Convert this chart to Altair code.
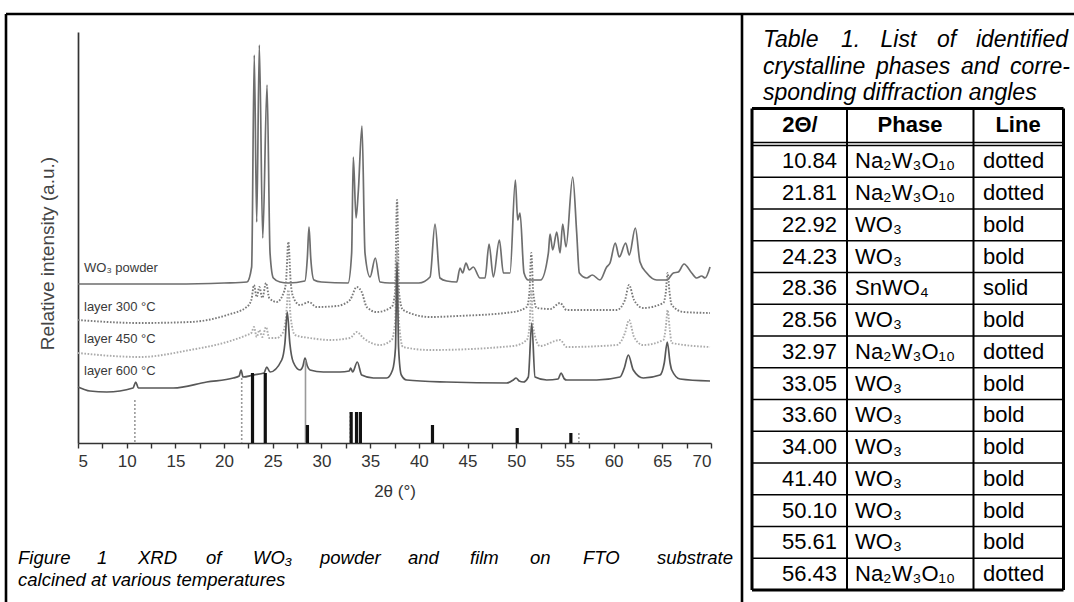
import altair as alt
import pandas as pd

FONT = "Liberation Sans"

# ---------------- XRD curves (2θ in degrees, relative intensity a.u., as stacked in the figure) ----------------
powder_theta = [5.0, 10.0, 15.0, 20.0, 22.35, 22.83, 23.1, 23.35, 23.62, 23.97, 24.41, 24.72, 25.06, 25.74,
                26.6, 28.3, 28.55, 28.72, 28.9, 29.23, 30.0, 32.73, 33.1, 33.27, 33.55, 33.78, 34.16, 34.47,
                34.99, 35.53, 36.01, 37.0, 40.0, 41.15, 41.66, 42.17, 42.86, 43.89, 44.23, 44.5, 44.84, 45.18,
                45.59, 46.28, 46.8, 47.21, 47.65, 48.27, 48.68, 49.36, 49.91, 50.15, 50.39, 50.8, 51.24, 52.5,
                53.3, 53.47, 53.75, 54.16, 54.5, 54.77, 55.11, 55.8, 56.21, 56.48, 57.24, 57.81, 58.6, 59.29,
                59.63, 60.17, 60.58, 61.24, 61.61, 62.23, 62.71, 63.4, 64.43, 65.45, 66.13, 66.64, 67.23, 68.02,
                68.53, 69.04, 69.39, 69.9]
powder_int = [159, 159, 159, 160, 161, 176, 388, 221, 398, 205, 358, 190, 165, 161,
              160, 162, 185, 216, 185, 163, 161, 160, 190, 286, 225, 251, 317, 190,
              166, 185, 161, 160, 160, 166, 219, 165, 162, 161, 175, 170, 180, 173,
              176, 165, 165, 199, 166, 203, 170, 170, 263, 223, 230, 170, 163, 163,
              190, 209, 193, 211, 190, 219, 196, 266, 210, 170, 165, 168, 163, 176,
              180, 200, 186, 200, 188, 215, 181, 170, 163, 163, 170, 171, 179, 170,
              165, 167, 165, 176]

l300_theta = [5.0, 11.37, 16.5, 20.3, 22.32, 22.8, 23.07, 23.35, 23.62, 23.93, 24.31, 24.64, 25.4, 26.02,
              26.35, 26.6, 26.85, 27.1, 27.8, 28.72, 29.51, 31.57, 32.93, 33.62, 34.13, 34.65, 35.68, 37.21,
              37.55, 37.76, 37.97, 38.37, 41.15, 44.0, 49.7, 51.08, 51.35, 51.55, 51.75, 52.1, 53.5, 54.5,
              55.18, 60.31, 61.17, 61.58, 62.1, 63.02, 65.11, 65.35, 65.55, 65.75, 65.97, 67.16, 69.9]
l300_int = [123, 120, 121, 128, 136, 143, 158, 146, 156, 145, 160, 145, 141, 148,
            160, 201, 160, 146, 138, 141, 136, 137, 143, 156, 151, 136, 131, 136,
            150, 243, 150, 133, 126, 127, 131, 136, 150, 190, 150, 135, 134, 140,
            133, 133, 143, 158, 143, 135, 140, 150, 170, 150, 138, 131, 130]

l450_theta = [5.0, 11.37, 16.5, 20.3, 22.35, 22.8, 23.07, 23.35, 23.62, 23.93, 24.31, 24.64, 25.4, 26.02,
              26.35, 26.6, 26.85, 27.28, 28.82, 30.88, 32.93, 33.62, 34.3, 36.01, 37.21, 37.55, 37.76, 37.97,
              38.37, 41.15, 49.7, 51.08, 51.35, 51.55, 51.75, 52.44, 54.5, 55.18, 60.31, 61.17, 61.58, 62.1,
              63.02, 65.11, 65.35, 65.55, 65.75, 65.97, 69.9]
l450_int = [90, 86, 93, 101, 108, 110, 116, 106, 113, 106, 116, 105, 105, 110,
            125, 153, 125, 108, 105, 103, 105, 111, 105, 98, 103, 120, 193, 120,
            96, 93, 97, 103, 115, 153, 115, 97, 103, 96, 98, 110, 123, 106,
            98, 103, 115, 133, 115, 100, 96]

l600_theta = [5.0, 6.23, 7.95, 10.65, 10.93, 11.2, 14.79, 18.22, 20.95, 21.55, 21.74, 21.95, 23.0, 24.1,
              24.38, 24.72, 25.92, 26.25, 26.49, 26.75, 27.1, 27.8, 28.1, 28.31, 28.55, 28.82, 30.19, 31.9,
              32.85, 33.0, 33.2, 33.68, 34.13, 35.33, 36.7, 37.3, 37.6, 37.76, 37.92, 38.2, 38.75, 42.86,
              49.02, 49.7, 49.98, 50.3, 50.73, 51.24, 51.59, 51.93, 53.13, 54.3, 54.6, 54.95, 55.18, 58.26,
              60.66, 61.1, 61.51, 62.02, 63.05, 64.77, 65.2, 65.51, 65.8, 65.97, 66.82, 69.9]
l600_int = [56, 52, 51, 55, 61, 55, 55, 61, 65, 67, 73, 66, 68, 70,
            76, 71, 83, 100, 131, 100, 81, 73, 77, 85, 77, 73, 71, 71,
            72, 75, 71, 81, 68, 65, 65, 73, 95, 181, 95, 68, 63, 61,
            60, 63, 65, 62, 61, 66, 120, 66, 63, 64, 70, 64, 63, 63,
            66, 75, 88, 73, 65, 68, 80, 101, 80, 73, 64, 62]

series_names = ["WO₃ powder", "layer 300 °C", "layer 450 °C", "layer 600 °C"]
series_theta = [powder_theta, l300_theta, l450_theta, l600_theta]
series_int = [powder_int, l300_int, l450_int, l600_int]
label_int = [175, 136, 104, 72]

# ---------------- Table 1 (also drives the reference sticks) ----------------
table_header = ["2Θ/", "Phase", "Line"]
table_angle = [10.84, 21.81, 22.92, 24.23, 28.36, 28.56, 32.97, 33.05, 33.60, 34.00, 41.40, 50.10, 55.61, 56.43]
table_phase = ["Na₂W₃O₁₀", "Na₂W₃O₁₀", "WO₃", "WO₃", "SnWO₄", "WO₃", "Na₂W₃O₁₀", "WO₃", "WO₃", "WO₃",
               "WO₃", "WO₃", "WO₃", "Na₂W₃O₁₀"]
table_line = ["dotted", "dotted", "bold", "bold", "solid", "bold", "dotted", "bold", "bold", "bold",
              "bold", "bold", "bold", "dotted"]
stick_height = [43, 65, 70, 70, 83, 18, 31, 31, 31, 31, 18, 15, 10, 10]

# ---------------- captions ----------------
fig_caption_1 = ["Figure", "1", "XRD", "of", "WO₃", "powder", "and", "film", "on", "FTO", "substrate"]
fig_caption_2 = "calcined at various temperatures"
tab_caption_1 = ["Table", "1.", "List", "of", "identified"]
tab_caption_2 = ["crystalline", "phases", "and", "corre-"]
tab_caption_3 = "sponding diffraction angles"

# ---------------- layout (pixels) ----------------
OX, OY = 78, 32          # plot-area origin in the page
W, H = 633, 411          # plot-area size


def rx(x):
    return x - OX


def ry(y):
    return y - OY


one = pd.DataFrame({"k": [0]})

xs = alt.Scale(domain=[5, 70], nice=False, zero=False)
ys = alt.Scale(domain=[0, 411], nice=False, zero=False)

x_axis = alt.Axis(
    title="2θ (°)", values=[5 + 2.5 * k for k in range(27)],
    labelExpr="datum.value % 5 === 0 ? datum.label : ''",
    labelFont=FONT, labelFontSize=17, labelColor="#333", labelPadding=5,
    tickSize=5, tickColor="#333", tickWidth=1.4,
    domainColor="#333", domainWidth=1.7, grid=False,
    titleFont=FONT, titleFontSize=17, titleFontWeight="normal", titleColor="#333", titlePadding=14,
)
y_axis = alt.Axis(
    title="Relative intensity (a.u.)", labels=False, ticks=False, grid=False,
    domainColor="#333", domainWidth=1.7,
    titleFont=FONT, titleFontSize=19, titleFontWeight="normal", titleColor="#444",
    titleX=-31, titleY=221, titleAlign="center", titleBaseline="middle", titleAngle=270,
)

series_style = {
    "WO₃ powder": dict(color="#6e6e6e", strokeWidth=1.7),
    "layer 300 °C": dict(color="#7a7a7a", strokeWidth=1.9, strokeDash=[1.6, 1.6]),
    "layer 450 °C": dict(color="#ababab", strokeWidth=1.9, strokeDash=[1.6, 1.6]),
    "layer 600 °C": dict(color="#585858", strokeWidth=1.7),
}

layers = []
first = True
for name, th, iv in zip(series_names, series_theta, series_int):
    df = pd.DataFrame({"theta": th, "intensity": iv})
    layers.append(
        alt.Chart(df).mark_line(interpolate="monotone", **series_style[name]).encode(
            x=alt.X("theta:Q", scale=xs, axis=x_axis if first else None),
            y=alt.Y("intensity:Q", scale=ys, axis=y_axis if first else None),
        )
    )
    first = False

sticks = pd.DataFrame({"angle": table_angle, "height": stick_height, "line": table_line})
stick_style = {
    "dotted": dict(color="#9a9a9a", strokeWidth=1.6, strokeDash=[2, 2]),
    "solid": dict(color="#9a9a9a", strokeWidth=1.6),
    "bold": dict(color="#111111", strokeWidth=3.2),
}
for kind in ["dotted", "solid", "bold"]:
    layers.append(
        alt.Chart(sticks).transform_filter(alt.datum.line == kind).mark_rule(**stick_style[kind]).encode(
            x=alt.X("angle:Q", scale=xs, axis=None),
            y=alt.Y("height:Q", scale=ys, axis=None),
            y2=alt.datum(0),
        )
    )

labels = pd.DataFrame({"series": series_names, "intensity": label_int})
layers.append(
    alt.Chart(labels).mark_text(align="left", baseline="middle", font=FONT, fontSize=13, color="#3a3a3a").encode(
        x=alt.value(6), y=alt.Y("intensity:Q", scale=ys, axis=None), text="series:N"
    )
)


def rule(x1, x2, y1, y2, w, color="black"):
    return alt.Chart(one).mark_rule(color=color, strokeWidth=w).encode(
        x=alt.value(rx(x1)), x2=alt.value(rx(x2)), y=alt.value(ry(y1)), y2=alt.value(ry(y2))
    )


def word(text, x, y, size, align="left", italic=False, bold=False, font=FONT):
    return alt.Chart(one).mark_text(
        align=align, baseline="middle", font=font, fontSize=size,
        fontStyle="italic" if italic else "normal", fontWeight="bold" if bold else "normal", color="black",
    ).encode(x=alt.value(rx(x)), y=alt.value(ry(y)), text=alt.value(text))


# frame
layers += [rule(6, 1074, 14, 14, 2.6), rule(6, 6, 14, 602, 2.6), rule(742, 742, 14, 602, 2.6)]

# table grid
T_L, T_C1, T_C2, T_R = 752, 847, 973.5, 1063.5
T_TOP, T_H1, T_H2, T_BOT = 108.5, 142.5, 145.5, 590
row_scale = alt.Scale(domain=[0, len(table_angle)], range=[ry(T_H2), ry(T_BOT)], nice=False, zero=False)
tbl = pd.DataFrame({"i": list(range(len(table_angle))), "angle": table_angle, "phase": table_phase,
                    "line": table_line})
layers.append(
    alt.Chart(tbl).transform_filter(alt.datum.i < len(table_angle) - 1)
    .transform_calculate(edge="datum.i + 1")
    .mark_rule(color="black", strokeWidth=1.3)
    .encode(x=alt.value(rx(T_L)), x2=alt.value(rx(T_R)), y=alt.Y("edge:Q", scale=row_scale, axis=None))
)
layers += [
    rule(T_L, T_R, T_H1, T_H1, 1.3), rule(T_L, T_R, T_H2, T_H2, 1.3),
    rule(T_C1, T_C1, T_TOP, T_BOT, 2), rule(T_C2, T_C2, T_TOP, T_BOT, 2),
    rule(T_L, T_R, T_TOP, T_TOP, 3), rule(T_L, T_R, T_BOT, T_BOT, 3),
    rule(T_L, T_L, T_TOP, T_BOT, 3), rule(T_R, T_R, T_TOP, T_BOT, 3),
]

body = alt.Chart(tbl).transform_calculate(mid="datum.i + 0.5")
TS = 22
layers.append(body.mark_text(align="right", baseline="middle", font=FONT, fontSize=TS, color="black").encode(
    x=alt.value(rx(837)), y=alt.Y("mid:Q", scale=row_scale, axis=None), text=alt.Text("angle:Q", format=".2f")))
layers.append(body.mark_text(align="left", baseline="middle", font=FONT, fontSize=TS, color="black").encode(
    x=alt.value(rx(855)), y=alt.Y("mid:Q", scale=row_scale, axis=None), text="phase:N"))
layers.append(body.mark_text(align="left", baseline="middle", font=FONT, fontSize=TS, color="black").encode(
    x=alt.value(rx(983)), y=alt.Y("mid:Q", scale=row_scale, axis=None), text="line:N"))

for txt, cx in zip(table_header, [800, 910, 1018]):
    layers.append(word(txt, cx, 125, TS, align="center", bold=True))

# table caption (justified lines)
for txt, x in zip(tab_caption_1[:-1], [763, 841, 880.5, 937]):
    layers.append(word(txt, x, 40, 23, italic=True))
layers.append(word(tab_caption_1[-1], 1068, 40, 23, align="right", italic=True))
for txt, x in zip(tab_caption_2[:-1], [763, 876, 961]):
    layers.append(word(txt, x, 67, 23, italic=True))
layers.append(word(tab_caption_2[-1], 1070, 67, 23, align="right", italic=True))
layers.append(word(tab_caption_3, 763, 93, 23, italic=True))

# figure caption (justified first line)
FC = 18.5
for txt, x in zip(fig_caption_1[:-1], [18, 97, 138, 206, 253, 320, 408, 470, 530, 583]):
    layers.append(word(txt, x, 558, FC, italic=True))
layers.append(word(fig_caption_1[-1], 733, 558, FC, align="right", italic=True))
layers.append(word(fig_caption_2, 18, 580, FC, italic=True))

chart = alt.layer(*layers).resolve_scale(x="independent", y="independent").properties(
    width=W, height=H,
    autosize=alt.AutoSizeParams(type="none"),
    padding={"left": OX, "top": OY, "right": 1074 - OX - W, "bottom": 602 - OY - H},
    background="white",
).configure_view(stroke=None)

chart.save("out.html", embed_options={"renderer": "svg", "actions": False})
